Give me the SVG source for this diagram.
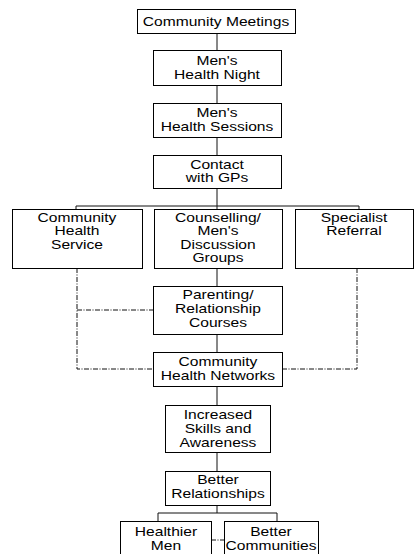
<svg xmlns="http://www.w3.org/2000/svg" width="416" height="554" viewBox="0 0 416 554">
<style>
.box{fill:#fff;stroke:#000;stroke-width:1}
.ln{fill:none;stroke:#111;stroke-width:1}
.dash{fill:none;stroke:#111;stroke-width:1;stroke-dasharray:5 1.5 1 1.5}
text{font-family:"Liberation Sans",Arial,sans-serif;font-size:13px;fill:#000;text-anchor:middle}
</style>
<rect width="416" height="554" fill="#fff"/>
<g id="connectors">
<path class="ln" d="M217 33V50M217 85V103M217 137V155M217 188V206M76 209V206H359V209M217 206V209M217 268V286M217 334V352M217 386V405M217 452V471M217 505V513M158 521V513H277V521"/>
<path class="dash" d="M77 268V369H153M77 310H153M357 268V369H282M211 540H224"/>
</g>
<g id="n1"><rect class="box" x="137.5" y="9.5" width="158" height="24"/><text transform="translate(216,26) scale(1.2,1)">Community Meetings</text></g>
<g id="n2"><rect class="box" x="153.5" y="50.5" width="128" height="35"/><text transform="translate(217,65) scale(1.2,1)"><tspan x="0">Men's</tspan><tspan x="0" dy="14">Health Night</tspan></text></g>
<g id="n3"><rect class="box" x="153.5" y="103.5" width="128" height="34"/><text transform="translate(217,117) scale(1.2,1)"><tspan x="0">Men's</tspan><tspan x="0" dy="14">Health Sessions</tspan></text></g>
<g id="n4"><rect class="box" x="153.5" y="155.5" width="128" height="33"/><text transform="translate(217,169) scale(1.2,1)"><tspan x="0">Contact</tspan><tspan x="0" dy="13.5">with GPs</tspan></text></g>
<g id="n5"><rect class="box" x="12.5" y="209.5" width="130" height="59"/><text transform="translate(77,222) scale(1.2,1)"><tspan x="0">Community</tspan><tspan x="0" dy="13.3">Health</tspan><tspan x="0" dy="13.3">Service</tspan></text></g>
<g id="n6"><rect class="box" x="154.5" y="209.5" width="128" height="59"/><text transform="translate(218,222) scale(1.2,1)"><tspan x="0">Counselling/</tspan><tspan x="0" dy="13.3">Men's</tspan><tspan x="0" dy="13.3">Discussion</tspan><tspan x="0" dy="13.3">Groups</tspan></text></g>
<g id="n7"><rect class="box" x="295.5" y="209.5" width="118" height="59"/><text transform="translate(354,222) scale(1.2,1)"><tspan x="0">Specialist</tspan><tspan x="0" dy="13.3">Referral</tspan></text></g>
<g id="n8"><rect class="box" x="153.5" y="286.5" width="129" height="48"/><text transform="translate(218,299) scale(1.2,1)"><tspan x="0">Parenting/</tspan><tspan x="0" dy="14">Relationship</tspan><tspan x="0" dy="14">Courses</tspan></text></g>
<g id="n9"><rect class="box" x="153.5" y="352.5" width="129" height="34"/><text transform="translate(218,366) scale(1.2,1)"><tspan x="0">Community</tspan><tspan x="0" dy="14">Health Networks</tspan></text></g>
<g id="n10"><rect class="box" x="165.5" y="405.5" width="105" height="47"/><text transform="translate(218,419) scale(1.2,1)"><tspan x="0">Increased</tspan><tspan x="0" dy="14">Skills and</tspan><tspan x="0" dy="14">Awareness</tspan></text></g>
<g id="n11"><rect class="box" x="165.5" y="471.5" width="105" height="34"/><text transform="translate(218,484) scale(1.2,1)"><tspan x="0">Better</tspan><tspan x="0" dy="14">Relationships</tspan></text></g>
<g id="n12"><rect class="box" x="120.5" y="521.5" width="91" height="40"/><text transform="translate(166,536) scale(1.2,1)"><tspan x="0">Healthier</tspan><tspan x="0" dy="14">Men</tspan></text></g>
<g id="n13"><rect class="box" x="224.5" y="521.5" width="94" height="40"/><text transform="translate(271,536) scale(1.2,1)"><tspan x="0">Better</tspan><tspan x="0" dy="14">Communities</tspan></text></g>
</svg>
